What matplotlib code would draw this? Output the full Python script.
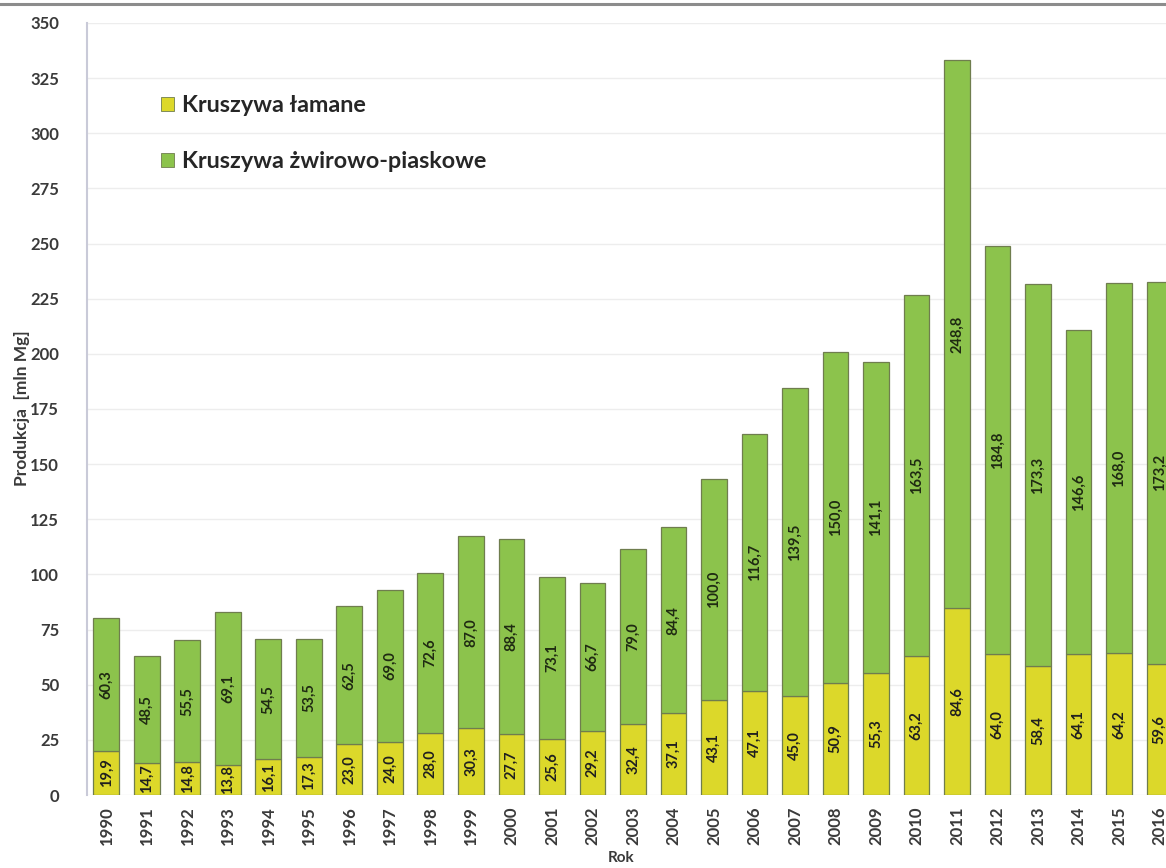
import matplotlib
matplotlib.use("Agg")
import matplotlib.pyplot as plt
from matplotlib.patches import Patch
from matplotlib.lines import Line2D
import numpy as np

plt.rcParams['font.family'] = ['Lato', 'DejaVu Sans']

years = [1990, 1991, 1992, 1993, 1994, 1995, 1996, 1997, 1998, 1999,
         2000, 2001, 2002, 2003, 2004, 2005, 2006, 2007, 2008, 2009,
         2010, 2011, 2012, 2013, 2014, 2015, 2016]

# Kruszywa łamane (crushed aggregates), mln Mg
lamane = [19.9, 14.7, 14.8, 13.8, 16.1, 17.3, 23.0, 24.0, 28.0, 30.3,
          27.7, 25.6, 29.2, 32.4, 37.1, 43.1, 47.1, 45.0, 50.9, 55.3,
          63.2, 84.6, 64.0, 58.4, 64.1, 64.2, 59.6]

# Kruszywa żwirowo-piaskowe (sand and gravel), mln Mg
zwirowe = [60.3, 48.5, 55.5, 69.1, 54.5, 53.5, 62.5, 69.0, 72.6, 87.0,
           88.4, 73.1, 66.7, 79.0, 84.4, 100.0, 116.7, 139.5, 150.0, 141.1,
           163.5, 248.8, 184.8, 173.3, 146.6, 168.0, 173.2]

y_ticks = [0, 25, 50, 75, 100, 125, 150, 175, 200, 225, 250, 275, 300, 325, 350]

label_lamane = "Kruszywa łamane"
label_zwirowe = "Kruszywa żwirowo-piaskowe"

YELLOW = "#DCD82A"
GREEN = "#8CC34C"
EDGE = "#6F7D4E"
TEXT = "#3A3A3A"

W, H = 1166, 868
fig = plt.figure(figsize=(W / 100, H / 100), dpi=100)
fig.patch.set_facecolor("white")

ax_left, ax_right = 87 / W, 1.0
ax_bottom, ax_top = (H - 795) / H, (H - 23) / H
ax = fig.add_axes([ax_left, ax_bottom, ax_right - ax_left, ax_top - ax_bottom])

x = np.arange(len(years))
lam = np.array(lamane)
zw = np.array(zwirowe)

bw = 0.64
ax.bar(x, lam, width=bw, color=YELLOW, edgecolor=EDGE, linewidth=0.9, zorder=3)
ax.bar(x, zw, width=bw, bottom=lam, color=GREEN, edgecolor=EDGE, linewidth=0.9, zorder=3)

def fmt(v):
    return f"{v:.1f}".replace(".", ",")

for xi, a, b in zip(x, lam, zw):
    ax.text(xi, a / 2, fmt(a), rotation=90, ha="center", va="center",
            fontsize=10.5, fontweight="bold", color="#1F1F1F", zorder=4)
    ax.text(xi, a + b / 2, fmt(b), rotation=90, ha="center", va="center",
            fontsize=10.5, fontweight="bold", color="#1F2A12", zorder=4)

ax.set_xlim(-0.48, (1166 - 106.5) / 40.5)
ax.set_ylim(0, 350)
ax.set_yticks(y_ticks)
ax.set_yticklabels([str(t) for t in y_ticks])
ax.set_xticks(x)
ax.set_xticklabels([str(y) for y in years], rotation=90)

ax.tick_params(axis="y", length=0, pad=20, labelsize=12, labelcolor=TEXT)
ax.tick_params(axis="x", length=0, pad=8, labelsize=12, labelcolor=TEXT)
for lbl in ax.get_xticklabels() + ax.get_yticklabels():
    lbl.set_fontweight("bold")

ax.grid(axis="y", color="#EDEDED", linewidth=1.0, zorder=0)
ax.set_axisbelow(True)
for side in ("top", "right", "bottom"):
    ax.spines[side].set_visible(False)
ax.spines["left"].set_color("#C9CAD8")
ax.spines["left"].set_linewidth(1.5)

fig.text(22 / W, 1 - 408 / H, "Produkcja  [mln Mg]", rotation=90,
         ha="center", va="center", fontsize=12.5, fontweight="bold", color=TEXT)
fig.text(621 / W, 1 - 858 / H, "Rok", ha="center", va="center",
         fontsize=11, fontweight="bold", color=TEXT)

handles = [Patch(facecolor=YELLOW, edgecolor=EDGE, linewidth=0.6),
           Patch(facecolor=GREEN, edgecolor=EDGE, linewidth=0.6)]
leg = fig.legend(handles, [label_lamane, label_zwirowe],
                 loc="upper left", bbox_to_anchor=(140 / W, 1 - 74 / H),
                 frameon=False, fontsize=16.8, handlelength=0.55, handleheight=0.55,
                 handletextpad=0.35, labelspacing=1.5)
for t in leg.get_texts():
    t.set_fontweight("bold")
    t.set_color("#262626")

# frame line across the top of the image
fig.add_artist(Line2D([0, 1], [1 - 4 / H, 1 - 4 / H], transform=fig.transFigure,
                      color="#8C8C8C", linewidth=2.2))

fig.savefig("out.png", dpi=100, facecolor="white")
